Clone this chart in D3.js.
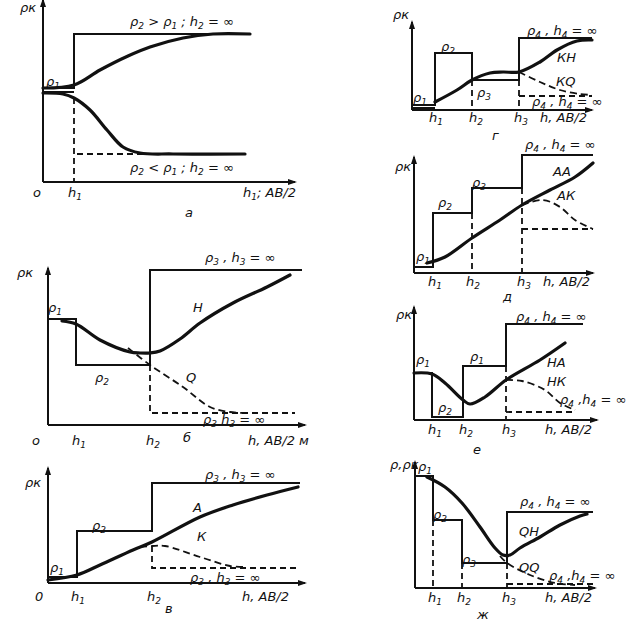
<!DOCTYPE html>
<html><head><meta charset="utf-8">
<script src="https://cdn.jsdelivr.net/npm/d3@7"></script>
<style>
html,body{margin:0;padding:0;background:#fff;}
svg text{font-family:"DejaVu Sans",sans-serif;font-style:italic;fill:#111;}
</style></head>
<body><svg id="c" width="638" height="629"></svg>
<script>
// ---------- DATA (x: AB/2 units, y: apparent resistivity units) ----------
// panel а : two-layer curves
const aStepHigh   = [[0,94],[31,94],[31,148],[207,148]];
const aStepLowSolid = [[0,90],[31,90]];
const aStepLowDash  = [[31,84],[31,0]];
const aStepLowDashH = [[34,28],[110,28]];
const aCurveHigh  = [[0,94],[31,97],[57,112],[85,126],[107,135],[140,144],[170,148],[207,148]];
const aCurveLow   = [[0,89],[20,88],[31,84],[47,72],[64,52],[80,35],[97,29],[130,28],[202,28]];

// panel б : H / Q
const bStep       = [[0,106],[28,106],[28,60],[102,60],[102,155],[254,155]];
const bStepDash   = [[102,60],[102,12],[247,12]];
const bCurveH     = [[14,104],[28,101],[52,85],[82,73],[92,72],[102,72],[112,74],[132,86],[152,102],[185,122],[219,138],[242,150]];
const bCurveQ     = [[80,77],[102,60],[135,38],[162,18],[182,13],[200,12]];

// panel в : A / K
const vStep       = [[0,6],[29,6],[29,52],[104,52],[104,100],[252,100]];
const vStepDash   = [[104,37],[104,15],[252,15]];
const vCurveA     = [[0,3],[29,8],[52,18],[85,33],[104,41],[152,66],[185,78],[219,88],[250,96]];
const vCurveK     = [[92,36],[104,37],[117,37],[152,26],[182,17],[197,16]];

// panel г : KH / KQ
const gStep       = [[0,5],[23,5],[23,57],[60,57],[60,30],[107,30],[107,72],[180,72]];
const gStepInner  = [[0,2],[23,2]];
const gDashV      = [[[60,30],[60,0]],[[107,30],[107,0]]];
const gDashH      = [[107,14],[180,14]];
const gCurveKH    = [[23,8],[45,20],[60,30],[78,37],[91,38],[107,38],[128,48],[145,60],[165,69],[180,70]];
const gCurveKQ    = [[107,38],[128,28],[148,20],[168,16],[180,15]];

// panel д : AA / AK
const dStep       = [[0,6],[19,6],[19,60],[58,60],[58,85],[108,85],[108,118],[179,118]];
const dDashV      = [[[58,60],[58,0]],[[108,85],[108,0]]];
const dDashH      = [[108,44],[179,44]];
const dCurveAA    = [[13,10],[31,16],[58,35],[86,53],[108,68],[136,83],[161,96],[179,110]];
const dCurveAK    = [[108,68],[129,73],[146,66],[161,53],[179,44]];

// panel е : HA / HK
const eStep       = [[0,47],[18,47],[18,3],[49,3],[49,54],[92,54],[92,96],[169,96]];
const eDashV      = [[[92,54],[92,0]]];
const eDashH      = [[92,8],[161,8]];
const eCurveHA    = [[0,47],[18,46],[31,37],[49,20],[56,16],[71,23],[92,40],[126,60],[151,77]];
const eCurveHK    = [[92,40],[108,39],[131,30],[146,17],[161,10]];

// panel ж : QH / QQ
const zStep       = [[0,112],[18,112],[18,68],[47,68],[47,25],[92,25],[92,76],[178,76]];
const zDashV      = [[[18,68],[18,0]],[[47,25],[47,0]],[[92,25],[92,0]]];
const zDashH      = [[92,4],[178,4]];
const zCurveQH    = [[12,111],[30,101],[47,85],[65,61],[80,40],[88,33],[95,33],[105,40],[125,51],[145,63],[165,72],[172,74]];
const zCurveQQ    = [[85,32],[92,25],[115,13],[140,5],[160,3]];

// labels: [text, x, y]  ("_" marks a subscript char)
const aLabels = [["ρк",-23,170],["ρ_2 > ρ_1 ;  h_2 = ∞",87,156],["ρ_1",3,96],["ρ_2 < ρ_1 ;  h_2 = ∞",87,10],["о",-10,-15],["h_1",25,-15],["h_1; AB/2",200,-15],["а",142,-35]];
const bLabels = [["ρк",-31,148],["ρ_3 , h_3 = ∞",157,163],["ρ_1",0,113],["Н",145,113],["ρ_2",47,43],["Q",138,43],["ρ_3 h_3 = ∞",155,1],["о",-16,-20],["h_1",24,-20],["h_2",98,-20],["б",135,-17],["h, AB/2 м",200,-20]];
const vLabels = [["ρк",-23,96],["ρ_3 , h_3 = ∞",157,104],["ρ_2",44,53],["А",145,71],["К",149,42],["ρ_1",2,11],["ρ_3 , h_3 = ∞",142,1],["0",-13,-18],["h_1",23,-18],["h_2",99,-18],["h, AB/2",194,-18],["в",117,-30]];
const gLabels = [["ρк",-19,91],["ρ_4 , h_4 = ∞",115,75],["ρ_2",29,59],["ρ_3",65,13],["ρ_1",1,8],["КН",145,48],["КQ",144,24],["ρ_4 , h_4 = ∞",120,4],["h_1",17,-12],["h_2",57,-12],["h_3",102,-12],["h, AB/2",128,-12],["г",80,-30]];
const dLabels = [["ρ_4 , h_4 = ∞",111,124],["ρк",-19,102],["ρ_3",58,86],["ρ_2",24,66],["АА",139,97],["АК",143,73],["ρ_1",2,12],["h_1",14,-13],["h_2",52,-13],["h_3",103,-13],["h, AB/2",129,-13],["д",89,-28]];
const eLabels = [["ρк",-18,101],["ρ_4 , h_4 = ∞",102,99],["ρ_1",2,56],["ρ_1",56,59],["НА",133,53],["НК",133,34],["ρ_2",24,8],["ρ_4 ,h_4 = ∞",146,16],["h_1",14,-14],["h_2",45,-14],["h_3",88,-14],["h, AB/2",131,-14],["е",59,-34]];
const zLabels = [["ρ,ρк",-25,119],["ρ_1",3,117],["ρ_2",18,69],["ρ_3",47,24],["ρ_4 , h_4 = ∞",105,82],["QН",104,52],["QQ",104,16],["ρ_4 ,h_4 = ∞",134,8],["h_1",13,-14],["h_2",42,-14],["h_3",87,-14],["h, AB/2",130,-14],["ж",62,-31]];

// ---------- LAYOUT ----------
const panels = [
  {ox:43, oy:182, xLen:252, yLen:182, step:[aStepHigh,aStepLowSolid], dashes:[aStepLowDash,aStepLowDashH], curves:[aCurveHigh,aCurveLow], dcurves:[], labels:aLabels},
  {ox:48, oy:425, xLen:257, yLen:157, step:[bStep], dashes:[bStepDash], curves:[bCurveH], dcurves:[bCurveQ], labels:bLabels},
  {ox:48, oy:583, xLen:257, yLen:115, step:[vStep], dashes:[vStepDash], curves:[vCurveA], dcurves:[vCurveK], labels:vLabels},
  {ox:412, oy:110, xLen:180, yLen:88, step:[gStep,gStepInner], dashes:[...gDashV,gDashH], curves:[gCurveKH], dcurves:[gCurveKQ], labels:gLabels},
  {ox:414, oy:273, xLen:179, yLen:116, step:[dStep], dashes:[...dDashV,dDashH], curves:[dCurveAA], dcurves:[dCurveAK], labels:dLabels},
  {ox:414, oy:420, xLen:183, yLen:113, step:[eStep], dashes:[...eDashV,eDashH], curves:[eCurveHA], dcurves:[eCurveHK], labels:eLabels},
  {ox:415, oy:588, xLen:180, yLen:126, step:[zStep], dashes:[...zDashV,zDashH], curves:[zCurveQH], dcurves:[zCurveQQ], labels:zLabels}
];

const svg = d3.select("#c");
svg.append("rect").attr("width",638).attr("height",629).attr("fill","#fff");

function addText(g, str, x, y){
  const t = g.append("text").attr("x",x).attr("y",y).attr("font-size",13);
  const parts = str.split(/(_.)/);
  parts.forEach(p=>{
    if(!p) return;
    if(p[0]==="_"){
      t.append("tspan").attr("font-size",9).attr("baseline-shift",-3).text(p[1]);
    } else t.append("tspan").text(p);
  });
}

panels.forEach(p=>{
  const x = d3.scaleLinear().domain([0,p.xLen]).range([p.ox,p.ox+p.xLen]);
  const y = d3.scaleLinear().domain([0,p.yLen]).range([p.oy,p.oy-p.yLen]);
  const g = svg.append("g");
  const lin = d3.line().x(d=>x(d[0])).y(d=>y(d[1]));
  const smooth = d3.line().x(d=>x(d[0])).y(d=>y(d[1])).curve(d3.curveCatmullRom.alpha(0.5));
  // axes
  g.append("line").attr("x1",x(0)).attr("y1",y(0)).attr("x2",x(p.xLen)).attr("y2",y(0)).attr("stroke","#111").attr("stroke-width",2);
  g.append("line").attr("x1",x(0)).attr("y1",y(0)).attr("x2",x(0)).attr("y2",y(p.yLen)).attr("stroke","#111").attr("stroke-width",2);
  g.append("path").attr("d",`M${x(p.xLen)+2},${y(0)} l-9,-3 l0,6 z`).attr("fill","#111");
  g.append("path").attr("d",`M${x(0)},${y(p.yLen)-2} l-3,9 l6,0 z`).attr("fill","#111");
  // steps
  p.step.forEach(s=>g.append("path").attr("d",lin(s)).attr("fill","none").attr("stroke","#111").attr("stroke-width",2));
  p.dashes.forEach(s=>g.append("path").attr("d",lin(s)).attr("fill","none").attr("stroke","#111").attr("stroke-width",1.8).attr("stroke-dasharray","6,4"));
  p.dcurves.forEach(s=>g.append("path").attr("d",smooth(s)).attr("fill","none").attr("stroke","#111").attr("stroke-width",1.8).attr("stroke-dasharray","7,4"));
  p.curves.forEach(s=>g.append("path").attr("d",smooth(s)).attr("fill","none").attr("stroke","#111").attr("stroke-width",3.2).attr("stroke-linecap","round"));
  p.labels.forEach(l=>addText(g,l[0],x(l[1]),y(l[2])));
});
</script></body></html>
